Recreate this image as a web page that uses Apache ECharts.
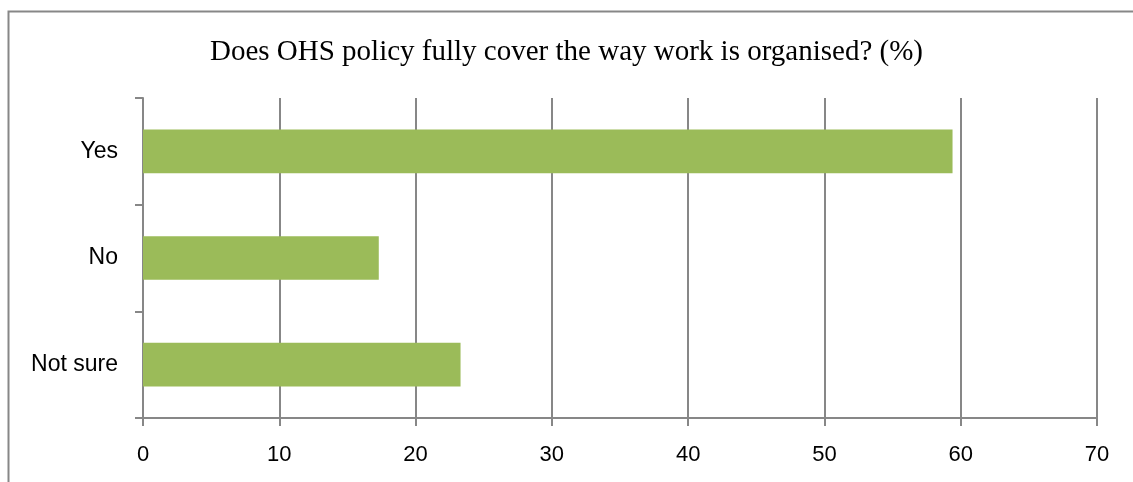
<!DOCTYPE html>
<html>
<head>
<meta charset="utf-8">
<script src="https://cdn.jsdelivr.net/npm/echarts@6/dist/echarts.min.js"></script>
<style>
  html, body { margin: 0; padding: 0; background: #fff; }
  #chart { width: 1133px; height: 482px; }
</style>
</head>
<body>
<div id="chart"></div>
<script>
// Survey answers, bottom-to-top order as drawn on the category axis
const titleText = 'Does OHS policy fully cover the way work is organised? (%)';
const categories = ['Not sure', 'No', 'Yes'];
const percentages = [23.3, 17.3, 59.4];
const xTicks = { min: 0, max: 70, interval: 10 };

const gridGrey = '#878787';
const barGreen = '#9BBB59';

const chart = echarts.init(document.getElementById('chart'), null, { renderer: 'canvas' });

chart.setOption({
  animation: false,
  backgroundColor: '#ffffff',
  title: {
    text: titleText,
    left: 'center',
    top: 33,
    textStyle: {
      fontFamily: 'Liberation Serif',
      fontWeight: 'normal',
      fontSize: 29,
      color: '#000'
    }
  },
  graphic: [{
    type: 'rect',
    shape: { x: 8.5, y: 11.5, width: 1140, height: 500 },
    style: { fill: 'none', stroke: '#878787', lineWidth: 2 },
    silent: true
  }],
  grid: { left: 143, right: 36, top: 98, bottom: 64 },
  xAxis: {
    type: 'value',
    min: xTicks.min,
    max: xTicks.max,
    interval: xTicks.interval,
    axisLine: { show: true, lineStyle: { color: gridGrey, width: 2 } },
    axisTick: { show: true, length: 8, lineStyle: { color: gridGrey, width: 2 } },
    splitLine: { show: true, lineStyle: { color: gridGrey, width: 2 } },
    axisLabel: {
      margin: 26,
      fontFamily: 'Liberation Sans',
      fontSize: 22,
      color: '#000'
    }
  },
  yAxis: {
    type: 'category',
    data: categories,
    axisLine: { show: true, lineStyle: { color: gridGrey, width: 2 } },
    axisTick: { show: true, length: 8, lineStyle: { color: gridGrey, width: 2 } },
    axisLabel: {
      margin: 25,
      fontFamily: 'Liberation Sans',
      fontSize: 23,
      color: '#000'
    }
  },
  series: [{
    type: 'bar',
    data: percentages,
    barCategoryGap: '59%',
    itemStyle: { color: barGreen },
    silent: true
  }]
});
</script>
</body>
</html>
